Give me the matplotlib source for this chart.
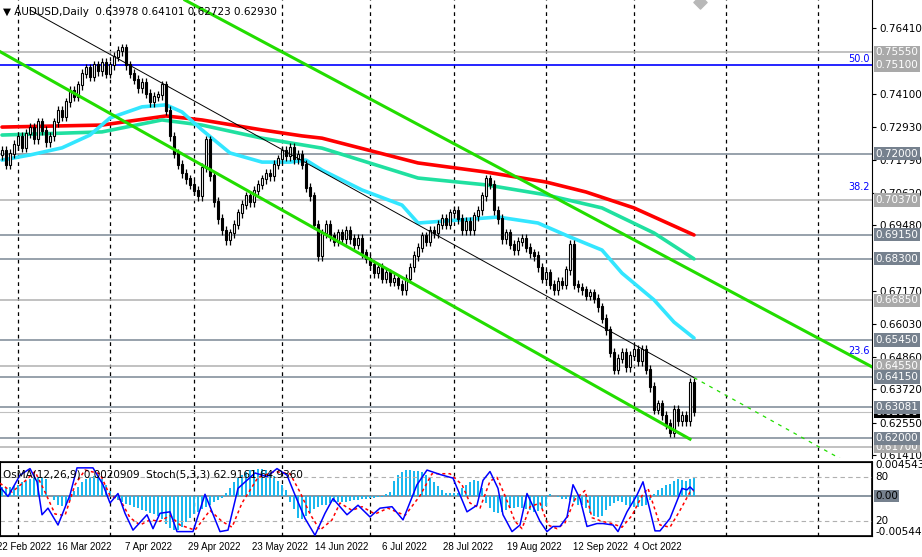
import matplotlib
matplotlib.use("Agg")
import matplotlib.pyplot as plt
import matplotlib.transforms as mtransforms
import numpy as np

plt.rcParams['font.family'] = ['DejaVu Sans']

# ---------------- data ----------------
closes = [0.721,0.716,0.720,0.723,0.726,0.722,0.727,0.729,0.725,0.731,
          0.728,0.724,0.726,0.731,0.735,0.733,0.738,0.742,0.740,0.744,
          0.748,0.750,0.747,0.751,0.749,0.752,0.748,0.751,0.754,0.756,
          0.757,0.751,0.748,0.746,0.743,0.745,0.741,0.738,0.740,0.7405,
          0.744,0.735,0.726,0.720,0.716,0.713,0.711,0.709,0.707,0.705,
          0.715,0.7247,0.712,0.703,0.697,0.693,0.6896,0.692,0.695,0.699,
          0.702,0.705,0.703,0.707,0.709,0.711,0.713,0.712,0.716,0.718,
          0.721,0.719,0.722,0.718,0.7195,0.716,0.708,0.705,0.695,0.684,
          0.692,0.695,0.691,0.689,0.692,0.690,0.693,0.690,0.688,0.690,
          0.685,0.683,0.681,0.678,0.680,0.676,0.678,0.675,0.676,0.674,
          0.672,0.676,0.680,0.684,0.687,0.691,0.689,0.693,0.692,0.695,
          0.697,0.695,0.699,0.700,0.697,0.693,0.696,0.693,0.698,0.700,
          0.705,0.711,0.709,0.700,0.697,0.690,0.692,0.688,0.686,0.689,
          0.690,0.687,0.685,0.684,0.680,0.676,0.678,0.674,0.672,0.675,
          0.674,0.679,0.688,0.674,0.673,0.672,0.670,0.671,0.669,0.666,
          0.662,0.658,0.650,0.644,0.648,0.650,0.645,0.649,0.651,0.647,
          0.651,0.644,0.638,0.630,0.632,0.628,0.625,0.622,0.630,0.626,
          0.628,0.626,0.6395,0.6293]
first_open = 0.7195
wick = 0.0016

ma_red = [(0,.7293),(25,.7300),(41,.7332),(50,.7318),(65,.7283),(75,.7262),(80,.7254),
          (104,.7167),(121,.7135),(136,.7100),(146,.7065),(158,.7009),(173,.6914)]
ma_teal = [(0,.7265),(25,.7276),(40,.7318),(50,.7300),(65,.7254),(80,.7219),(104,.7114),
           (121,.7090),(136,.7055),(150,.7009),(163,.6921),(173,.6830)]
ma_cyan = [(0,.7177),(7,.7195),(15,.7220),(22,.7265),(27,.7325),(35,.7364),(41,.7371),
           (45,.7346),(50,.7283),(57,.7202),(65,.7170),(72,.7170),(76,.7177),(80,.7142),
           (90,.7072),(100,.7019),(104,.6956),(124,.6977),(134,.6956),(142,.6907),
           (150,.6861),(155,.6780),(163,.6686),(168,.6608),(173,.6552)]

# channel / trend lines (bar index, price)
chan_upper = [(45.75, 0.7739), (218, 0.6447)]
chan_lower = [(-0.5, 0.7558), (172, 0.6197)]
trend_thin = [(7, 0.7704), (173, 0.6413)]
trend_dash = [(173, 0.6413), (210, 0.6125)]

levels_dark = [0.7200, 0.6915, 0.6830, 0.6545, 0.6415, 0.63081, 0.6200]
levels_light = [0.7555, 0.7037, 0.6685, 0.6455, 0.6170]
level_blue = 0.7510
fib_labels = [("50.0", 0.7510), ("38.2", 0.7062), ("23.6", 0.6486)]
price_ticks = [0.76410, 0.74100, 0.72930, 0.71790, 0.70620, 0.69480, 0.67170,
               0.66030, 0.64860, 0.63720, 0.62550, 0.61410]
last_price = 0.62930

date_labels = ["22 Feb 2022", "16 Mar 2022", "7 Apr 2022", "29 Apr 2022", "23 May 2022",
               "14 Jun 2022", "6 Jul 2022", "28 Jul 2022", "19 Aug 2022", "12 Sep 2022",
               "4 Oct 2022"]
date_pos = [5.5, 20.5, 36.5, 53, 69.5, 85, 100.5, 116.5, 133, 149.5, 164]
grid_pos = [4, 27, 48, 70, 92, 113, 136, 158, 181, 204]

# OsMA per bar (units of 1e-4)
osma = [12,11,12,13,14,18,20,22,24,25,24,23,0,-6,-12,-14,-13,-6,6,12,
        18,22,25,26,26,22,14,6,-3,-6,-9,-11,-13,-15,-17,-19,-21,-23,-25,-28,
        -32,-38,-44,-46,-46,-42,-36,-30,-25,-22,-18,-15,-12,-9,-6,-3,4,10,18,24,
        28,32,34,35,36,36,34,30,26,20,14,8,-8,-18,-30,-32,-28,-24,-18,-15,
        -13,-12,-10,-9,-9,-8,-8,-7,-6,-6,-5,-4,-3,-3,-2,-2,2,5,20,28,
        32,35,34,33,33,32,28,24,18,13,8,4,3,3,3,10,14,18,21,20,
        10,-10,-16,-22,-24,-22,-19,-17,-16,-15,-16,-18,-20,-22,-21,-18,-14,2,0,-2,
        -4,-5,-6,-8,-12,-13,-16,-24,-28,-29,-27,-20,-14,-10,-7,-9,-12,-14,-15,-15,
        -14,-12,-6,2,8,10,14,16,20,22,21,20,22,24]
osma = osma[:len(closes)]

stoch_main = [(0,67),(8,54),(20,83),(30,92),(37,74),(42,29),(48,38),(58,15),(70,56),(77,93),
              (93,93),(103,70),(110,45),(118,58),(125,31),(133,8),(147,29),(153,10),(160,31),
              (170,33),(177,6),(193,6),(205,57),(220,6),(228,8),(238,65),(255,86),(267,81),
              (277,92),(287,83),(295,56),(305,24),(315,1),(325,31),(333,51),(347,29),(358,42),
              (370,26),(380,38),(392,40),(403,22),(417,70),(427,90),(440,84),(453,79),(467,33),
              (477,42),(483,76),(490,88),(498,65),(503,29),(512,6),(520,15),(527,58),(540,20),
              (547,6),(553,13),(560,13),(567,26),(573,70),(580,51),(587,13),(597,17),(603,17),
              (613,15),(618,6),(627,33),(637,56),(643,74),(655,7),(660,7),(670,24),(682,65),
              (687,63),(690,67),(693,63)]
stoch_signal = [(0,72),(12,60),(25,75),(35,88),(45,60),(55,30),(65,28),(75,70),(85,90),(100,85),
                (110,55),(120,50),(130,25),(140,15),(150,22),(160,20),(170,28),(180,15),(195,8),
                (210,35),(222,20),(232,12),(242,45),(258,80),(275,88),(290,85),(300,60),(310,30),
                (320,8),(332,22),(340,45),(352,35),(362,40),(375,30),(388,38),(405,28),(420,55),
                (432,85),(450,85),(462,70),(470,45),(480,38),(490,75),(497,80),(505,55),(515,20),
                (522,10),(530,40),(540,45),(548,15),(557,10),(565,18),(575,50),(585,62),(592,25),
                (602,20),(612,17),(622,12),(632,28),(642,55),(648,65),(660,15),(670,12),(680,35),
                (690,60),(694,62)]

# ---------------- figure ----------------
W, H = 922, 557
fig = plt.figure(figsize=(W/100, H/100), dpi=100)
ax = fig.add_axes([0, (H-458)/H, 872/W, 458/H])
ax2 = fig.add_axes([0, (H-536)/H, 872/W, 74/H])
XMIN, XMAX = -0.5, 217.5
PMIN, PMAX = 0.61307, 0.77393

n = len(closes)
idx = np.arange(n)
opens = np.array([first_open] + closes[:-1])
cl = np.array(closes)
top = np.maximum(opens, cl)
bot = np.minimum(opens, cl)
ax.vlines(idx, bot - wick, top + wick, color='black', lw=0.9, zorder=4)
up = cl >= opens
ax.bar(idx[up], (top-bot)[up] + 0.0003, bottom=bot[up], width=0.7, color='white',
       edgecolor='black', lw=0.8, zorder=5)
ax.bar(idx[~up], (top-bot)[~up] + 0.0003, bottom=bot[~up], width=0.7, color='black',
       edgecolor='black', lw=0.8, zorder=5)

for lst, col in [(ma_red, '#ff0000'), (ma_teal, '#20e0a0'), (ma_cyan, '#33e6ff')]:
    xs, ys = zip(*lst)
    ax.plot(xs, ys, color=col, lw=2.6, zorder=3, solid_capstyle='round')

for ln in [chan_upper, chan_lower]:
    xs, ys = zip(*ln)
    ax.plot(xs, ys, color='#22dd00', lw=2.2, zorder=6)
xs, ys = zip(*trend_thin)
ax.plot(xs, ys, color='black', lw=0.7, zorder=6)
xs, ys = zip(*trend_dash)
ax.plot(xs, ys, color='#22dd00', lw=0.9, ls=(0, (3, 4)), zorder=6)

for g in grid_pos:
    ax.axvline(g, color='black', lw=0.9, ls=(0, (3, 3)), zorder=1)
    ax2.axvline(g, color='black', lw=0.9, ls=(0, (3, 3)), zorder=1)

trans = mtransforms.blended_transform_factory(ax.transAxes, ax.transData)
for lv in levels_dark:
    ax.axhline(lv, color='#7a8794', lw=1.1, zorder=2)
for lv in levels_light:
    ax.axhline(lv, color='#b0b0b0', lw=1.1, zorder=2)
ax.axhline(level_blue, color='#0000ff', lw=1.2, zorder=2)
ax.axhline(last_price, color='#c0c0c0', lw=0.8, zorder=2)
for t, v in fib_labels:
    ax.text(0.997, v + 0.0003, t, transform=trans, color='#0000ff', fontsize=7,
            ha='right', va='bottom')

ax.set_xlim(XMIN, XMAX)
ax.set_ylim(PMIN, PMAX)
ax.set_xticks([])
ax.yaxis.tick_right()
ax.set_yticks(price_ticks)
ax.set_yticklabels([f"{p:.5f}" for p in price_ticks], fontsize=7.5)
ax.tick_params(axis='y', length=3, pad=2)
for s in ['left', 'top', 'bottom']:
    ax.spines[s].set_visible(False)

def box(v, col, txtcol='white'):
    ax.text(1.004, v, f"{v:.5f}", transform=trans, fontsize=7.5, color=txtcol, va='center',
            ha='left', bbox=dict(boxstyle='square,pad=0.15', fc=col, ec='none'), zorder=10,
            clip_on=False)
for lv in levels_light:
    box(lv, '#a9a9a9')
box(level_blue, '#a9a9a9')
box(last_price, 'black')
for lv in levels_dark:
    box(lv, '#76818e')

ax.text(0.003, 0.985, "▼ AUDUSD,Daily  0.63978 0.64101 0.62723 0.62930", transform=ax.transAxes,
        fontsize=7.5, va='top', ha='left', zorder=11)
ax.scatter([174.5], [0.7733], marker='D', s=45, color='#b8b8b8', zorder=11, clip_on=True)

# ---------------- indicator panel ----------------
ax2.set_xlim(XMIN, XMAX)
ax2.set_ylim(-0.005445, 0.0045431)
ax2.bar(idx, np.array(osma) * 1e-4, width=0.65, color='#1ab8ef', zorder=2)
ax2.axhline(0, color='#7f8c99', lw=1.3, zorder=1)
ax2.set_xticks([])
ax2.set_yticks([])
for s in ax2.spines.values():
    s.set_linewidth(1.2)
ax3 = ax2.twinx()
ax3.set_ylim(0, 101)
ax3.set_xlim(XMIN, XMAX)
ax3.axhline(80, color='#b0b0b0', lw=0.8, ls=(0, (4, 3)))
ax3.axhline(20, color='#b0b0b0', lw=0.8, ls=(0, (4, 3)))
xs, ys = zip(*stoch_signal)
ax3.plot((np.array(xs) - 2) / 4, ys, color='#ff0000', lw=1.1, ls=(0, (2, 2)), zorder=3)
xs, ys = zip(*stoch_main)
ax3.plot((np.array(xs) - 2) / 4, ys, color='#0000ff', lw=1.1, zorder=4)
ax3.set_yticks([])
bt3 = mtransforms.blended_transform_factory(ax3.transAxes, ax3.transData)
ax3.text(1.004, 0.96, "0.0045431", transform=ax3.transAxes, fontsize=7.5, va='center', ha='left')
ax3.text(1.004, 80, "80", transform=bt3, fontsize=7.5, va='center', ha='left')
ax3.text(1.004, 20, "20", transform=bt3, fontsize=7.5, va='center', ha='left')
ax3.text(1.004, 0.06, "-0.005445", transform=ax3.transAxes, fontsize=7.5, va='center', ha='left')
ax2.text(1.004, 0, "0.00", transform=mtransforms.blended_transform_factory(ax2.transAxes, ax2.transData),
         fontsize=7.5, color='black', va='center', ha='left',
         bbox=dict(boxstyle='square,pad=0.1', fc='#76818e', ec='none'))
ax3.text(0.003, 0.9, "OsMA(12,26,9) 0.0020909  Stoch(5,3,3) 62.9161 64.9360",
         transform=ax3.transAxes, fontsize=7.5, va='top', ha='left', zorder=10)

for lab, p in zip(date_labels, date_pos):
    ax2.text(p, -0.0062, lab, fontsize=7, ha='center', va='top', clip_on=False,
             family=['Liberation Sans'])

fig.savefig("out.png", dpi=100)
